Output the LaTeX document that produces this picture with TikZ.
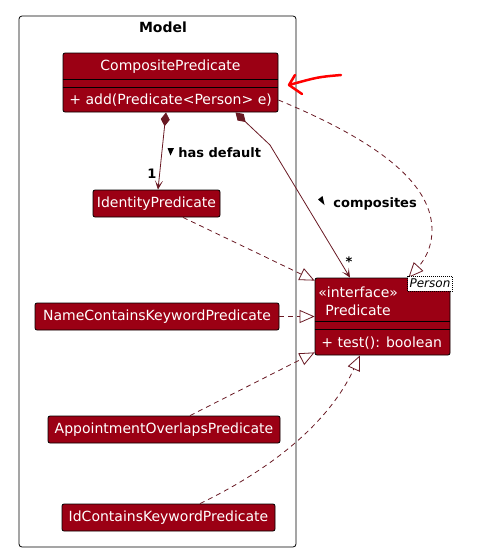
\documentclass[tikz,border=0pt]{standalone}
\usepackage{fontspec}
\setmainfont{DejaVu Sans}
\usetikzlibrary{arrows.meta,shapes}
\definecolor{umlred}{RGB}{155,0,20}
\definecolor{umlline}{RGB}{105,25,35}
\tikzstyle{cls} = [rectangle, draw=black, fill=umlred, rounded corners=2pt,
    inner sep=0pt, text=white, font=\fontsize{14}{16}\selectfont]
\tikzstyle{mem} = [inner sep=0pt, text=white, font=\fontsize{14}{16}\selectfont]
\tikzstyle{lbl} = [inner sep=0pt, font=\fontsize{13}{15}\selectfont\bfseries]
\tikzstyle{real} = [umlline, dash pattern=on 5pt off 4pt,
    -{Triangle[open,length=15pt,width=13pt]}]
\tikzstyle{comp} = [umlline,
    {Diamond[fill=umlline,length=14pt,width=9pt]}-{Stealth[length=9pt,width=8pt,inset=5pt]}]

\begin{document}
\begin{tikzpicture}[x=1pt,y=-1pt,line width=0.8pt]
  \useasboundingbox (0,0) rectangle (479,550);

  % package
  \node[draw=black, rounded corners=3pt, minimum width=277pt, minimum height=531pt,
    inner sep=0pt] (model) at (157.5,281.5) {};
  \node[font=\fontsize{14}{16}\selectfont\bfseries] (mtitle) at (163,27) {Model};

  % CompositePredicate
  \node[cls, minimum width=215pt, minimum height=59pt] (cp) at (170.5,82.5) {};
  \node[mem] (cpname) at (170.5,66.5) {CompositePredicate};
  \draw ([yshift=-27pt]cp.north west) -- ([yshift=-27pt]cp.north east);
  \draw ([yshift=-35pt]cp.north west) -- ([yshift=-35pt]cp.north east);
  \node[mem, anchor=west] (cpadd) at (69,100) {+ add(Predicate<Person> e)};

  % Predicate interface
  \node[cls, minimum width=135pt, minimum height=77pt] (pred) at (382.5,316.5) {};
  \node[mem, anchor=west] (pster) at (318,292) {«interface»};
  \node[mem, anchor=west] (pname) at (325,310) {Predicate};
  \draw ([yshift=-44pt]pred.north west) -- ([yshift=-44pt]pred.north east);
  \draw ([yshift=-52pt]pred.north west) -- ([yshift=-52pt]pred.north east);
  \node[mem, anchor=west] (ptest) at (321,343) {+ test(): boolean};

  % implementations
  \node[cls, minimum width=127pt, minimum height=27pt] (idp) at (156.5,203.5) {IdentityPredicate};
  \node[cls, minimum width=244pt, minimum height=27pt] (nmp) at (157,316.5) {NameContainsKeywordPredicate};
  \node[cls, minimum width=232pt, minimum height=27pt] (apl) at (164,429.5) {AppointmentOverlapsPredicate};
  \node[cls, minimum width=213pt, minimum height=27pt] (idk) at (168.5,517.5) {IdContainsKeywordPredicate};

  % compositions
  \draw[comp] ([xshift=-4.5pt]cp.south) -- ([xshift=1.5pt]idp.north);
  \fill (167.5,148) -- (174,148) -- (170.5,155.5) -- cycle;
  \node[lbl, anchor=west] (hd) at (178,152.5) {has default};
  \node[lbl] (m1) at (152,174) {1};
  \draw[comp] ([xshift=65pt]cp.south) -- (270,145) -- ([xshift=-32.5pt]pred.north);
  \fill (318,199.5) -- (322.5,196) -- (324.5,205) -- cycle;
  \node[lbl, anchor=west] (cs) at (333,203.5) {composites};
  \node[lbl] (m2) at (349,262) {*};

  % realizations
  \draw[real] (cp.east |- cpadd) .. controls (370,138) and (432,180) .. (432,230)
    .. controls (432,252) and (420,265) .. ([xshift=26pt]pred.north);
  \draw[real] ([xshift=26.5pt]idp.south) -- ([yshift=-3pt]pred.north west);
  \draw[real] (nmp.east) -- (nmp.east -| pred.west);
  \draw[real] ([xshift=26pt]apl.north) -- ([yshift=3pt]pred.south west);
  \draw[real] ([xshift=31.5pt]idk.north) .. controls (290,460) and (335,410)
    .. ([xshift=-22.5pt]pred.south);

  % template parameter
  \node[draw=black, dash pattern=on 1pt off 1pt, fill=white, line width=0.5pt,
    font=\fontsize{12}{14}\selectfont\itshape, inner xsep=2pt, inner ysep=0pt,
    minimum height=15pt] (ptpl) at (430,283.5) {Person};

  % hand-drawn marker
  \draw[red, line width=2.5pt, line cap=round, line join=round]
    (341,75) .. controls (318,77) .. (289,85);
  \draw[red, line width=2.5pt, line cap=round, line join=round]
    (295,75) -- (289,85) -- (302,94);
\end{tikzpicture}
\end{document}
